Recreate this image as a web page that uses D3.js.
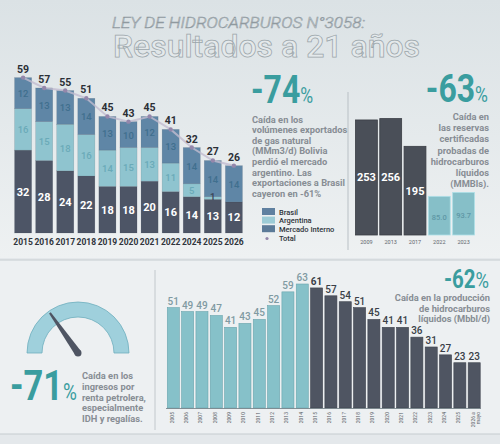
<!DOCTYPE html>
<html><head><meta charset="utf-8">
<script src="https://cdn.jsdelivr.net/npm/d3@7"></script>
<style>html,body{margin:0;padding:0;background:#e2e7ea;}svg{display:block;font-family:Roboto,"Noto Sans",sans-serif;}</style>
</head><body><div id="c"></div>
<script>
// ---- data ----
const gasYears = ["2015","2016","2017","2018","2019","2020","2021","2022","2024","2025","2026"];
const mercadoInterno = [32,28,24,22,18,18,20,16,14,13,12];
const argentina = [16,15,18,16,14,15,13,11,5,1,0];
const brasil = [12,13,13,14,13,10,12,13,14,14,14];
const gasTotals = [59,57,55,51,45,43,45,41,32,27,26];

const resYears = ["2009","2013","2017","2022","2023"];
const reservas = [253,256,195,85.0,93.7];
const resLabels = ["253","256","195","85.0","93.7"];

const prodYears = ["2005","2006","2007","2008","2009","2010","2011","2012","2013","2014","2015","2016","2017","2018","2019","2020","2021","2022","2023","2024","2025","2026 a mayo"];
const produccion = [51,49,49,47,41,43,45,52,59,63,61,57,54,51,45,41,41,36,31,27,23,23];

const W=500,H=444;
const svg=d3.select("#c").append("svg").attr("width",W).attr("height",H);
const defs=svg.append("defs");
const g1=defs.append("linearGradient").attr("id","bgTop").attr("x1",0).attr("x2",0).attr("y1",0).attr("y2",1);
g1.append("stop").attr("offset","0%").attr("stop-color","#dbe2e5");
g1.append("stop").attr("offset","100%").attr("stop-color","#eef1f2");
svg.append("rect").attr("width",W).attr("height",258).attr("fill","url(#bgTop)");
svg.append("rect").attr("y",258).attr("width",W).attr("height",186).attr("fill","#e4e8eb");
svg.append("rect").attr("x",0).attr("y",260).attr("width",W).attr("height",174).attr("fill","#edf0f2");
svg.append("line").attr("x1",0).attr("x2",W).attr("y1",260).attr("y2",260).attr("stroke","#c6ccd0").attr("stroke-width",1.2);
svg.append("line").attr("x1",0).attr("x2",W).attr("y1",434).attr("y2",434).attr("stroke","#c6ccd0").attr("stroke-width",1.2);
svg.append("line").attr("x1",155).attr("x2",155).attr("y1",270).attr("y2",430).attr("stroke","#c2c8cc");
svg.append("line").attr("x1",348).attr("x2",348).attr("y1",92).attr("y2",250).attr("stroke","#b9c0c5");

// ---- title ----
svg.append("text").attr("x",112).attr("y",28).attr("textLength",253).attr("lengthAdjust","spacingAndGlyphs")
 .attr("font-size",15).attr("font-style","italic").attr("font-weight",300)
 .attr("fill","none").attr("stroke","#8f999f").attr("stroke-width",0.55).text("LEY DE HIDROCARBUROS N°3058:");
svg.append("text").attr("x",113).attr("y",57).attr("textLength",307).attr("lengthAdjust","spacingAndGlyphs")
 .attr("font-size",32).attr("font-weight",500)
 .attr("fill","#e4e9eb").attr("stroke","#9ba5aa").attr("stroke-width",0.75).text("Resultados a 21 años");

// ---- stacked gas chart ----
const colMI="#4d5566", colAR="#8fc4cf", colBR="#5f86a6";
const xg=d3.scaleBand().domain(gasYears).range([13.5,243.5]).paddingInner(0.19).paddingOuter(0.05);
const yg=d3.scaleLinear().domain([0,60]).range([233,77.6]);
const stackData=gasYears.map((y,i)=>({year:y,mi:mercadoInterno[i],ar:argentina[i],br:brasil[i],total:gasTotals[i]}));
const stack=d3.stack().keys(["mi","ar","br"])(stackData);
const colors={mi:colMI,ar:colAR,br:colBR};
const labelCol={mi:"#ffffff",ar:"#6aaab8",br:"#3f6f8e"};
const gg=svg.append("g");
stack.forEach(layer=>{
  gg.selectAll(null).data(layer).enter().append("rect")
   .attr("x",d=>xg(d.data.year)).attr("width",xg.bandwidth())
   .attr("y",d=>yg(d[1])).attr("height",d=>yg(d[0])-yg(d[1]))
   .attr("fill",colors[layer.key]).attr("stroke","#3d4452").attr("stroke-opacity",0.25).attr("stroke-width",0.5);
});
stack.forEach(layer=>{
  gg.selectAll(null).data(layer.filter(d=>d[1]-d[0]>0)).enter().append("text")
   .attr("x",d=>xg(d.data.year)+xg.bandwidth()/2)
   .attr("y",d=>{const h=yg(d[0])-yg(d[1]); return h<6? yg(d[0])+1 : (yg(d[0])+yg(d[1]))/2+4;})
   .attr("text-anchor","middle")
   .attr("font-size",layer.key==="mi"?11:9.5).attr("font-weight",layer.key==="mi"?700:500)
   .attr("fill",d=>(d[1]-d[0]<3)?"#3a4454":labelCol[layer.key]).text(d=>d[1]-d[0]);
});
const topPts=stackData.map((d,i)=>[xg(d.year)+xg.bandwidth()/2, yg(d.mi+d.ar+d.br)]);
gg.append("path").attr("d",d3.line()(topPts)).attr("fill","none").attr("stroke","#c2bccf").attr("stroke-width",2).attr("opacity",0.8);
gg.selectAll(null).data(topPts).enter().append("circle").attr("cx",d=>d[0]).attr("cy",d=>d[1]).attr("r",2.2).attr("fill","#9487ab");
gg.selectAll(null).data(stackData).enter().append("text")
 .attr("x",d=>xg(d.year)+xg.bandwidth()/2).attr("y",d=>yg(d.mi+d.ar+d.br)-5)
 .attr("text-anchor","middle").attr("font-size",10.5).attr("font-weight",700).attr("fill","#2b2f36").text(d=>d.total);
const axg=svg.append("g").attr("transform","translate(0,233)").call(d3.axisBottom(xg).tickSize(0).tickPadding(6));
axg.select(".domain").remove();
axg.selectAll("text").attr("font-size",8.5).attr("font-weight",700).attr("fill","#2f343b").attr("font-family","Roboto");

// ---- big percentage helper ----
function bigPct(x,y,num,size,anchor,pctScale){
  const t=svg.append("text").attr("fill","#3a9d9f").attr("font-weight",700).attr("text-anchor",anchor||"start")
   .attr("transform",`translate(${x},${y}) scale(0.82,1)`);
  t.append("tspan").attr("font-size",size).text(num);
  t.append("tspan").attr("font-size",size*(pctScale||0.55)).attr("font-weight",400).text("%");
}
bigPct(251,103,"-74",39);
const p1=["Caída en los","volúmenes exportados","de gas natural","(MMm3/d) Bolivia","perdió el mercado","argentino. Las","exportaciones a Brasil","cayeron en -61%"];
svg.append("g").selectAll("text").data(p1).enter().append("text").attr("x",252).attr("y",(d,i)=>122.5+i*10.6)
 .attr("font-size",9.3).attr("font-weight",700).attr("fill","#878d94").text(d=>d);
const leg=[["Brasil","#5f80a0"],["Argentina","#9ccbd6"],["Mercado Interno","#5b7a98"]];
const lg=svg.append("g");
leg.forEach((l,i)=>{
  lg.append("rect").attr("x",262).attr("y",208+i*8.6).attr("width",13).attr("height",7).attr("fill",l[1]);
  lg.append("text").attr("x",279).attr("y",214.5+i*8.6).attr("font-size",7.5).attr("font-weight",500).attr("fill","#2f343b").text(l[0]);
});
lg.append("circle").attr("cx",267).attr("cy",238.5).attr("r",1.6).attr("fill","#9487ab");
lg.append("text").attr("x",279).attr("y",241).attr("font-size",7.5).attr("font-weight",500).attr("fill","#2f343b").text("Total");

// ---- reserves chart ----
const xr=d3.scaleBand().domain(resYears).range([355,475]).paddingInner(0.1).paddingOuter(0.02);
const yr=d3.scaleLinear().domain([0,256]).range([235,118.6]);
const rg=svg.append("g");
rg.selectAll("rect").data(reservas).enter().append("rect")
 .attr("x",(d,i)=>xr(resYears[i])).attr("width",xr.bandwidth())
 .attr("y",d=>yr(d)).attr("height",d=>235-yr(d))
 .attr("fill",(d,i)=>i<3?"#4a4f58":"#86bfc8").attr("stroke",(d,i)=>i<3?"#3a3e45":"#aee0e8").attr("stroke-width",0.8);
rg.selectAll("text").data(reservas).enter().append("text")
 .attr("x",(d,i)=>xr(resYears[i])+xr.bandwidth()/2).attr("y",d=>(yr(d)+235)/2+4)
 .attr("text-anchor","middle").attr("font-size",(d,i)=>i<3?11:7.5).attr("font-weight",(d,i)=>i<3?700:500)
 .attr("fill",(d,i)=>i<3?"#ffffff":"#5e97a6").text((d,i)=>resLabels[i]);
const axr=svg.append("g").attr("transform","translate(0,235)").call(d3.axisBottom(xr).tickSize(0).tickPadding(5));
axr.select(".domain").remove();
axr.selectAll("text").attr("font-size",5.5).attr("fill","#60666d").attr("font-family","Roboto");
bigPct(488,101.5,"-63",39,"end");
const p2=["Caída en","las reservas","certificadas","probadas de","hidrocarburos","líquidos","(MMBls)."];
svg.append("g").selectAll("text").data(p2).enter().append("text").attr("x",489).attr("y",(d,i)=>120+i*11.2).attr("text-anchor","end")
 .attr("font-size",9.3).attr("font-weight",700).attr("fill","#878d94").text(d=>d);

// ---- gauge ----
const gx=78,gy=353;
svg.append("path").attr("transform",`translate(${gx},${gy})`)
 .attr("d",d3.arc().innerRadius(36).outerRadius(51).startAngle(-Math.PI/2).endAngle(Math.PI/2)())
 .attr("fill","#9fd0dc").attr("stroke","#6eaebe").attr("stroke-width",0.8);
const ang=Math.atan2(-40,-28), L=49;
const tip=[gx+L*Math.cos(ang), gy+L*Math.sin(ang)];
const px=-Math.sin(ang), py=Math.cos(ang);
svg.append("path").attr("d",`M${gx+px*3.5},${gy+py*3.5} L${tip[0]+px*1},${tip[1]+py*1} L${tip[0]-px*1},${tip[1]-py*1} L${gx-px*3.5},${gy-py*3.5} Z`)
 .attr("fill","#4f5563");
svg.append("circle").attr("cx",gx).attr("cy",gy).attr("r",3.5).attr("fill","#4f5563");
bigPct(10,400,"-71",42);
const p3=["Caída en los","ingresos por","renta petrolera,","especialmente","IDH y regalías."];
svg.append("g").selectAll("text").data(p3).enter().append("text").attr("x",82).attr("y",(d,i)=>379+i*10.8)
 .attr("font-size",9.3).attr("font-weight",700).attr("fill","#878d94").text(d=>d);

// ---- production chart ----
const xp=d3.scaleBand().domain(prodYears).range([167,480.5]).paddingInner(0.16).paddingOuter(0.02);
const yp=d3.scaleLinear().domain([0,63]).range([408,284]);
const pg=svg.append("g");
pg.selectAll("rect").data(produccion).enter().append("rect")
 .attr("x",(d,i)=>xp(prodYears[i])).attr("width",xp.bandwidth())
 .attr("y",d=>yp(d)).attr("height",d=>408-yp(d))
 .attr("fill",(d,i)=>i<10?"#86c1c9":"#4f5562").attr("stroke",(d,i)=>i<10?"#6aa5ad":"#3f444f").attr("stroke-width",0.6);
pg.selectAll("text").data(produccion).enter().append("text")
 .attr("x",(d,i)=>xp(prodYears[i])+xp.bandwidth()/2).attr("y",d=>yp(d)-3)
 .attr("text-anchor","middle").attr("font-size",10).attr("font-weight",(d,i)=>i===10?700:500)
 .attr("fill",(d,i)=>i<10?"#809aa2":"#3a3f48").text(d=>d);
pg.append("line").attr("x1",166).attr("x2",481).attr("y1",408.5).attr("y2",408.5).attr("stroke","#6b7a80").attr("stroke-width",0.8);
const axp=svg.append("g").attr("transform","translate(0,409)").call(d3.axisBottom(xp).tickSize(0).tickPadding(4));
axp.select(".domain").remove();
axp.selectAll("text").attr("font-size",5).attr("fill","#555b62").attr("font-family","Roboto")
 .attr("text-anchor","end").attr("transform","rotate(-90)").attr("dx",-3).attr("dy",-xp.bandwidth()/2+6.5).attr("y",0).attr("x",0)
 .each(function(d){ if(d==="2026 a mayo"){ const t=d3.select(this); t.text(null);
   t.append("tspan").text("2026 a"); t.append("tspan").attr("x",0).attr("dy",5).attr("dx",-3).text("mayo"); }});
bigPct(489,288,"-62",25,"end",0.9);
const p4=["Caída en la producción","de hidrocarburos","líquidos (Mbbl/d)"];
svg.append("g").selectAll("text").data(p4).enter().append("text").attr("x",490).attr("y",(d,i)=>301+i*10.5).attr("text-anchor","end")
 .attr("font-size",9.3).attr("font-weight",700).attr("fill","#878d94").text(d=>d);
</script></body></html>
